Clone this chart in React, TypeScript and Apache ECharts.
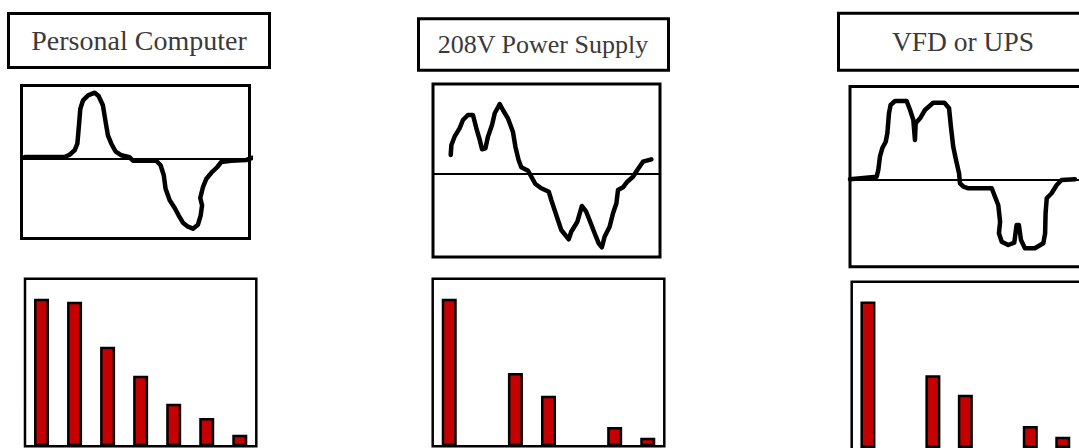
import React, { useEffect, useRef } from "react";
import * as echarts from "echarts";

// ---- Data ----
const TITLES = ["Personal Computer", "208V Power Supply", "VFD or UPS"];
const HARMONICS = ["1", "3", "5", "7", "9", "11", "13"];

// harmonic magnitudes (% scale, 0-100)
const pcHarmonics = [88.1, 86.3, 59.4, 42.1, 25.3, 16.9, 6.8];
const psHarmonics = [88.1, null, 43.8, 30.1, null, 11.5, 5.0];
const vfdHarmonics = [88.1, null, 43.8, 32.1, null, 13.3, 6.8];

// waveforms: [time % of cycle, amplitude]
const pcWave = [
  [1.5, 1.7], [18.9, 1.7], [21.1, 4], [23.3, 8.4], [24.5, 15], [25.2, 33.4], [25.8, 50],
  [27, 58.4], [29.2, 63.4], [32.1, 66], [33.8, 62.7], [35.7, 53.4], [36.9, 36.7],
  [37.9, 23.4], [39.4, 15], [41.2, 7.4], [43.8, 3.4], [47.4, 1.4], [48.9, -2],
  [59.1, -2], [61, -6.6], [62.4, -16.6], [63.2, -30], [65, -41.6], [67.2, -49.3],
  [68.9, -56.6], [70.8, -64], [73, -68], [75.2, -70], [77.4, -66], [78.6, -56.6],
  [79.2, -46.6], [78.4, -39.3], [79.6, -28.3], [81.1, -20], [83.3, -14], [85.9, -8.3],
  [87.6, -3.3], [92, -2], [98.6, -1.3], [101.5, 1],
];
const psWave = [
  [7.8, 18.3], [8.1, 28.3], [9.5, 36.6], [11.7, 45], [13.2, 53.3], [15.4, 58.3],
  [17.6, 58.3], [19.1, 45], [20.6, 33.3], [21.6, 24], [23.1, 25], [24.2, 36.6],
  [26, 48.3], [27.2, 60], [29.4, 69.3], [30.8, 63.3], [33, 55], [35.2, 41.6],
  [36.3, 26.6], [37.7, 13.3], [38.9, 6], [41.9, 2.6], [43.3, -3.4], [45.1, -10.7],
  [47.7, -15], [51, -18.4], [52.1, -26.7], [54.3, -41.7], [56.5, -56.7], [59.8, -66],
  [60.9, -58.4], [63.6, -48.4], [65.6, -32.7], [67.5, -38.4], [69.5, -50], [71.2, -60],
  [73, -70], [74.4, -74], [75.6, -63.4], [77.8, -53.4], [79.3, -40], [80.8, -30],
  [81.5, -16.7], [83.7, -14], [85.6, -8.4], [88.1, -3.4], [90, 3.3], [92.5, 11.6],
  [96.2, 14],
];
const vfdWave = [
  [0, 0], [11.5, 2.6], [12.2, 9.3], [12.9, 22.6], [13.9, 31], [15.4, 37.6], [16.1, 46],
  [16.8, 66], [17.5, 74.3], [19.4, 78.3], [24.4, 78.3], [25.9, 69.3], [27.3, 59.3],
  [28, 39.3], [28.3, 56], [30.2, 61], [32.3, 69.3], [35.9, 76.6], [40.7, 76.6],
  [42.7, 71], [43.5, 52.6], [44.5, 32.6], [45.7, 19.3], [47, 6], [47.4, -4],
  [48.9, -7.4], [51, -9], [61.1, -9], [62.5, -17.4], [63.9, -25.7], [64.7, -42.4],
  [64.2, -54], [65.4, -62.4], [68.2, -65.7], [70.8, -63.4], [71.8, -45.7], [72.8, -45.7],
  [73.7, -60.7], [75.4, -69], [79.7, -69], [83.3, -64], [84.1, -54], [84.3, -34],
  [84.8, -19], [86.9, -14], [89.1, -5.7], [91.2, -0.7], [97, 0],
];

// ---- Layout (pixels) ----
const TITLE_BOXES = [
  { x: 8.5, y: 13.5, w: 261, h: 54, tx: 139, ty: 40, fs: 28 },
  { x: 418.5, y: 18.8, w: 250, h: 51.4, tx: 543, ty: 44.5, fs: 26 },
  { x: 838.5, y: 13.2, w: 262, h: 57, tx: 963, ty: 41, fs: 27.5 },
];
// boxW: drawn frame width (third frame runs past the page edge)
const WAVE_GRIDS = [
  { left: 21.5, top: 85.5, width: 228, height: 153, min: -79.8, max: 73.2, boxW: 228 },
  { left: 433, top: 84, width: 227, height: 173, min: -83.7, max: 89.3, boxW: 227 },
  { left: 850, top: 86.5, width: 229, height: 180.3, min: -87.5, max: 92.8, boxW: 250 },
];
const BAR_GRIDS = [
  { left: 25, top: 278.8, width: 231.3, height: 167.4, boxW: 231.3, boxH: 167.4 },
  { left: 432.7, top: 278.8, width: 231.6, height: 167.4, boxW: 231.6, boxH: 167.4 },
  { left: 851.7, top: 281.8, width: 227.3, height: 167.4, boxW: 250, boxH: 180 },
];
// third bar panel's category slots continue past the page edge
const BAR_SLOT_W = [33.04, 33.09, 33.14];

export default function App() {
  const ref = useRef<HTMLDivElement | null>(null);

  useEffect(() => {
    if (!ref.current) return;
    const chart = echarts.init(ref.current, undefined, { renderer: "svg" });
    const waves = [pcWave, psWave, vfdWave];
    const bars = [pcHarmonics, psHarmonics, vfdHarmonics];

    const grid: any[] = [];
    const xAxis: any[] = [];
    const yAxis: any[] = [];
    const series: any[] = [];
    const graphic: any[] = [];

    WAVE_GRIDS.forEach((g, i) => {
      grid.push({
        left: g.left, top: g.top, width: g.width, height: g.height, show: false,
      });
      graphic.push({
        type: "rect",
        shape: { x: g.left, y: g.top, width: g.boxW, height: g.height },
        style: { fill: "none", stroke: "#000", lineWidth: 3 },
        z: 0,
      });
      // x extent in % of a 100% frame; the drawn grid may be narrower than the frame
      const xMax = (100 * g.width) / (i === 2 ? 232 : g.width);
      xAxis.push({
        type: "value", gridIndex: i, min: 0, max: xMax,
        axisLine: { show: true, onZero: true, lineStyle: { color: "#000", width: 2 } },
        axisTick: { show: false }, axisLabel: { show: false }, splitLine: { show: false },
      });
      yAxis.push({
        type: "value", gridIndex: i, min: g.min, max: g.max,
        axisLine: { show: false }, axisTick: { show: false }, axisLabel: { show: false },
        splitLine: { show: false },
      });
      series.push({
        type: "line", xAxisIndex: i, yAxisIndex: i, data: waves[i],
        showSymbol: false, symbol: "none", clip: false, smooth: false,
        lineStyle: { color: "#000", width: 4.5, join: "round", cap: "round" },
        z: 5,
      });
    });

    BAR_GRIDS.forEach((g, j) => {
      const i = j + 3;
      grid.push({
        left: g.left, top: g.top, width: j === 2 ? BAR_SLOT_W[j] * 7 : g.width,
        height: g.height, show: false,
      });
      graphic.push({
        type: "rect",
        shape: { x: g.left, y: g.top, width: g.boxW, height: g.boxH },
        style: { fill: "none", stroke: "#000", lineWidth: 2.5 },
        z: 0,
      });
      xAxis.push({
        type: "category", gridIndex: i, data: HARMONICS, boundaryGap: true,
        axisLine: { show: false }, axisTick: { show: false }, axisLabel: { show: false },
        splitLine: { show: false },
      });
      yAxis.push({
        type: "value", gridIndex: i, min: 0, max: 100,
        axisLine: { show: false }, axisTick: { show: false }, axisLabel: { show: false },
        splitLine: { show: false },
      });
      series.push({
        type: "bar", xAxisIndex: i, yAxisIndex: i, data: bars[j], barWidth: 15,
        itemStyle: { color: "#c40000", borderColor: "#000", borderWidth: 2.5 },
        clip: false,
        z: 3,
      });
    });

    TITLE_BOXES.forEach((b, i) => {
      graphic.push({
        type: "rect",
        shape: { x: b.x, y: b.y, width: b.w, height: b.h },
        style: { fill: "#fff", stroke: "#000", lineWidth: 3 },
        z: 1,
      });
      graphic.push({
        type: "text",
        x: b.tx, y: b.ty,
        style: {
          text: TITLES[i], fill: "#3a3a3a", fontSize: b.fs,
          fontFamily: '"Liberation Serif", "Times New Roman", serif',
          align: "center", verticalAlign: "middle",
        },
        z: 2,
      });
    });

    chart.setOption({
      animation: false,
      backgroundColor: "#fff",
      grid, xAxis, yAxis, series, graphic,
    });
    return () => chart.dispose();
  }, []);

  return (
    <div
      ref={ref}
      style={{ position: "fixed", left: 0, top: 0, width: 1079, height: 448 }}
    />
  );
}
